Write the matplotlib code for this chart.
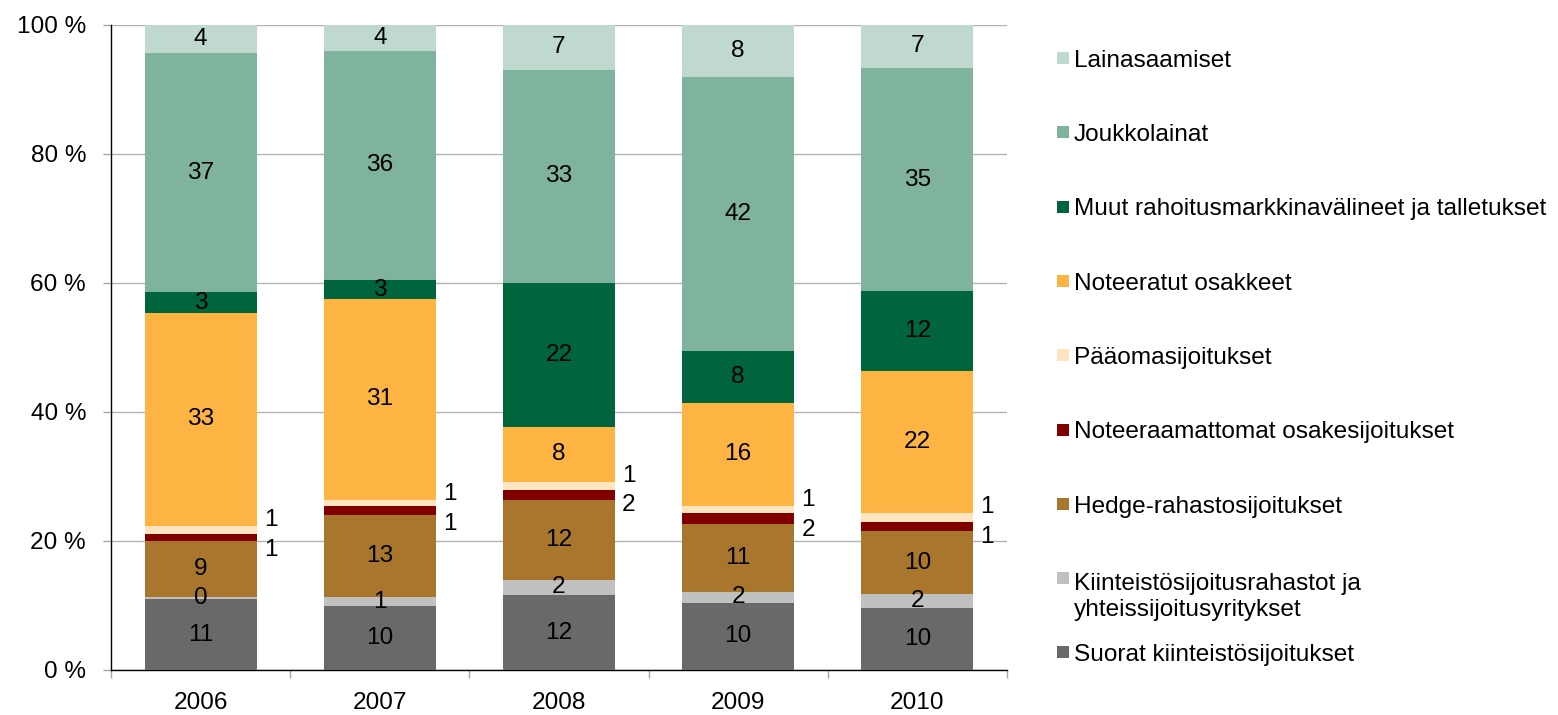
import matplotlib
matplotlib.use("Agg")
import matplotlib.pyplot as plt
from matplotlib.patches import Rectangle
import numpy as np

years = ["2006", "2007", "2008", "2009", "2010"]

# bottom to top
categories = [
    "Suorat kiinteistösijoitukset",
    "Kiinteistösijoitusrahastot ja\nyhteissijoitusyritykset",
    "Hedge-rahastosijoitukset",
    "Noteeraamattomat osakesijoitukset",
    "Pääomasijoitukset",
    "Noteeratut osakkeet",
    "Muut rahoitusmarkkinavälineet ja talletukset",
    "Joukkolainat",
    "Lainasaamiset",
]

suorat = [11.0, 9.9, 11.6, 10.4, 9.6]
kiint = [0.3, 1.4, 2.4, 1.7, 2.2]
hedge = [8.7, 12.7, 12.3, 10.6, 9.7]
noteeraamattomat = [1.1, 1.4, 1.6, 1.6, 1.4]
paaoma = [1.2, 1.0, 1.3, 1.1, 1.4]
noteeratut = [33.1, 31.1, 8.4, 16.0, 22.0]
muut = [3.1, 2.9, 22.4, 8.1, 12.4]
joukko = [37.1, 35.6, 33.0, 42.4, 34.6]
laina = [4.4, 4.0, 7.0, 8.1, 6.7]

series = [suorat, kiint, hedge, noteeraamattomat, paaoma, noteeratut, muut, joukko, laina]
colors = ["#696969", "#c0c0c0", "#a8762c", "#800000", "#fee5c0",
          "#fdb443", "#00643c", "#80b39d", "#c0d9cf"]

FS = 17.6
plt.rcParams['font.family'] = ['Liberation Sans', 'DejaVu Sans']

fig = plt.figure(figsize=(15.58, 7.15), dpi=100)
W, H = 1558, 715
ax = fig.add_axes([111 / W, 1 - 670 / H, (1007 - 111) / W, (670 - 24.7) / H])

x = np.arange(len(years))
bw = 0.625
bottom = np.zeros(len(years))
tops = []
for s, c in zip(series, colors):
    vals = np.array(s)
    ax.bar(x, vals, bw, bottom=bottom, color=c, edgecolor='none', zorder=3)
    tops.append(bottom + vals)
    bottom = bottom + vals

# value labels
bottom = np.zeros(len(years))
for k, s in enumerate(series):
    vals = np.array(s)
    for i in range(len(years)):
        lab = str(int(round(vals[i])))
        if k in (3, 4):
            continue
        ax.text(x[i], bottom[i] + vals[i] / 2, lab, ha='center', va='center',
                fontsize=FS, color='black', zorder=5)
    bottom = bottom + vals

# labels for the thin segments placed beside the bars
for i in range(len(years)):
    ypaa = tops[4][i] + 0.9
    ax.text(x[i] + 0.39, ypaa, str(int(round(paaoma[i]))), ha='center',
            va='center', fontsize=FS, zorder=5)
    ax.text(x[i] + 0.39, ypaa - 4.6, str(int(round(noteeraamattomat[i]))),
            ha='center', va='center', fontsize=FS, zorder=5)

ax.set_xlim(-0.5, len(years) - 0.5)
ax.set_ylim(0, 100)
ax.set_yticks(np.arange(0, 101, 20))
ax.set_yticklabels([f"{v} %" for v in range(0, 101, 20)], fontsize=FS)
ax.set_xticks(x)
ax.set_xticklabels(years, fontsize=FS)
ax.tick_params(axis='x', length=0, pad=16)
ax.set_xticks(np.arange(-0.5, len(years), 1.0), minor=True)
ax.tick_params(axis='x', which='minor', length=6, width=1, color='#a6a6a6', direction='out')
ax.tick_params(axis='y', length=6, width=1, color='#a6a6a6', direction='out', pad=12)
ax.yaxis.grid(True, color='#b3b3b3', linewidth=1, zorder=0)
ax.set_axisbelow(True)
for sp in ['top', 'right']:
    ax.spines[sp].set_visible(False)
ax.spines['left'].set_color('black')
ax.spines['bottom'].set_color('black')
ax.spines['left'].set_linewidth(1)
ax.spines['bottom'].set_linewidth(1)

# legend (top to bottom)
cap_half = 8.7
line_h = 29
for j, k in enumerate(range(len(categories) - 1, -1, -1)):
    yc = 58 + 74.3 * j
    nlines = categories[k].count("\n") + 1
    fig.add_artist(Rectangle((1057 / W, 1 - (yc + 6) / H), 12 / W, 12 / H,
                             transform=fig.transFigure, facecolor=colors[k],
                             edgecolor='none'))
    fig.text(1074 / W, 1 - (yc + cap_half + (nlines - 1) * line_h) / H,
             categories[k], ha='left', va='baseline', fontsize=FS,
             color='black', linespacing=1.2)

fig.savefig("out.png", dpi=100)
